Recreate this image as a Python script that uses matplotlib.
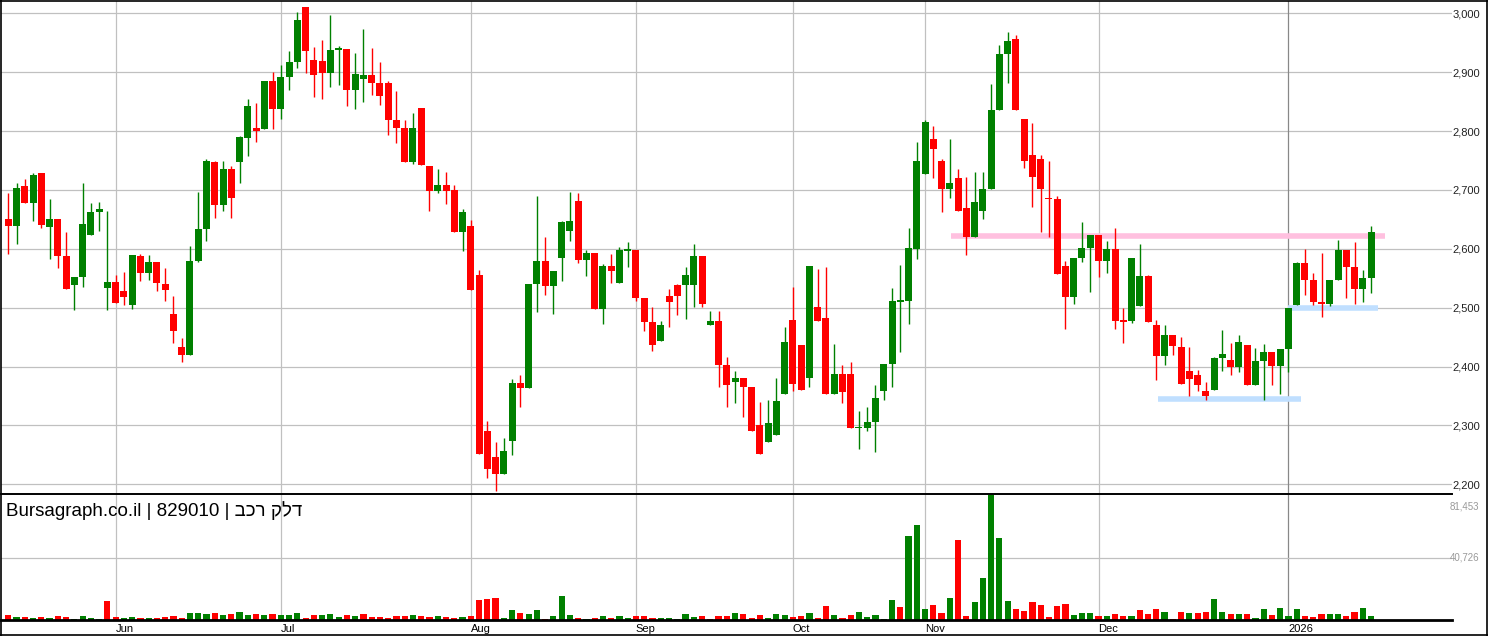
import matplotlib.pyplot as plt
import numpy as np

plt.rcParams['font.family'] = ['Liberation Sans', 'DejaVu Sans']

# daily candles, one entry per trading day
opens = [2650, 2638, 2706, 2677, 2728, 2637, 2651, 2587, 2538, 2552,
         2623, 2662, 2533, 2543, 2529, 2505, 2587, 2559, 2577, 2541,
         2489, 2434, 2420, 2580, 2634, 2748, 2674, 2736, 2747, 2789,
         2806, 2803, 2885, 2838, 2892, 2917, 3010, 2921, 2919, 2899,
         2938, 2939, 2870, 2889, 2895, 2881, 2881, 2818, 2806, 2747,
         2839, 2741, 2698, 2708, 2700, 2628, 2638, 2556, 2291, 2247,
         2217, 2274, 2372, 2363, 2540, 2579, 2536, 2585, 2631, 2682,
         2581, 2593, 2497, 2571, 2542, 2596, 2598, 2517, 2475, 2443,
         2520, 2539, 2539, 2539, 2588, 2471, 2478, 2402, 2373, 2380,
         2365, 2300, 2272, 2284, 2354, 2479, 2437, 2380, 2501, 2483,
         2354, 2388, 2388, 2295, 2295, 2306, 2358, 2405, 2510, 2511,
         2600, 2727, 2786, 2750, 2701, 2720, 2669, 2620, 2664, 2701,
         2835, 2931, 2956, 2821, 2760, 2752, 2686, 2684, 2571, 2518,
         2585, 2602, 2623, 2579, 2599, 2477, 2477, 2503, 2553, 2470,
         2418, 2453, 2434, 2392, 2385, 2358, 2360, 2414, 2411, 2399,
         2436, 2368, 2410, 2424, 2401, 2429, 2504, 2576, 2547, 2509,
         2506, 2547, 2598, 2569, 2531, 2550]
highs = [2694, 2711, 2719, 2728, 2728, 2685, 2651, 2628, 2552, 2712,
         2677, 2680, 2665, 2555, 2560, 2590, 2592, 2589, 2577, 2567,
         2520, 2448, 2604, 2697, 2752, 2750, 2750, 2740, 2792, 2855,
         2847, 2885, 2900, 2913, 2936, 3003, 3010, 2943, 2955, 2998,
         2945, 2940, 2932, 2974, 2941, 2917, 2885, 2868, 2818, 2831,
         2839, 2741, 2736, 2730, 2708, 2667, 2649, 2564, 2308, 2272,
         2279, 2379, 2385, 2540, 2689, 2620, 2562, 2647, 2697, 2694,
         2598, 2593, 2574, 2591, 2603, 2611, 2598, 2517, 2502, 2478,
         2532, 2541, 2569, 2608, 2588, 2495, 2495, 2416, 2392, 2380,
         2365, 2339, 2343, 2380, 2468, 2535, 2437, 2571, 2566, 2569,
         2439, 2402, 2407, 2324, 2331, 2368, 2405, 2533, 2572, 2635,
         2782, 2819, 2809, 2752, 2787, 2735, 2722, 2730, 2730, 2880,
         2946, 2968, 2963, 2821, 2814, 2760, 2749, 2690, 2580, 2585,
         2646, 2624, 2623, 2614, 2636, 2499, 2585, 2609, 2555, 2479,
         2470, 2453, 2450, 2434, 2394, 2373, 2417, 2462, 2440, 2453,
         2437, 2431, 2439, 2424, 2429, 2499, 2577, 2599, 2559, 2593,
         2547, 2615, 2598, 2611, 2564, 2639]
lows = [2591, 2608, 2677, 2648, 2635, 2582, 2567, 2532, 2496, 2535,
        2623, 2630, 2496, 2508, 2504, 2498, 2545, 2547, 2528, 2511,
        2440, 2408, 2420, 2577, 2613, 2652, 2665, 2652, 2712, 2757,
        2781, 2803, 2803, 2820, 2870, 2908, 2899, 2858, 2854, 2875,
        2879, 2843, 2837, 2850, 2861, 2844, 2794, 2779, 2747, 2744,
        2742, 2664, 2695, 2676, 2628, 2596, 2530, 2251, 2210, 2188,
        2217, 2249, 2331, 2363, 2492, 2522, 2490, 2546, 2613, 2576,
        2554, 2497, 2473, 2542, 2542, 2569, 2512, 2460, 2426, 2443,
        2468, 2488, 2480, 2502, 2502, 2471, 2365, 2331, 2338, 2314,
        2290, 2251, 2272, 2284, 2354, 2358, 2360, 2366, 2478, 2354,
        2354, 2338, 2295, 2260, 2290, 2255, 2343, 2365, 2424, 2473,
        2583, 2727, 2720, 2662, 2686, 2664, 2590, 2620, 2651, 2701,
        2835, 2882, 2836, 2738, 2671, 2629, 2620, 2557, 2464, 2506,
        2577, 2527, 2552, 2559, 2464, 2440, 2474, 2503, 2476, 2377,
        2403, 2420, 2371, 2350, 2359, 2343, 2360, 2392, 2385, 2390,
        2368, 2368, 2344, 2368, 2354, 2390, 2504, 2522, 2504, 2484,
        2503, 2547, 2516, 2506, 2509, 2525]
closes = [2638, 2704, 2677, 2726, 2640, 2651, 2588, 2532, 2552, 2643,
          2662, 2667, 2543, 2508, 2518, 2590, 2559, 2577, 2542, 2530,
          2460, 2420, 2580, 2634, 2750, 2674, 2736, 2686, 2790, 2843,
          2801, 2885, 2837, 2892, 2917, 2988, 2936, 2896, 2899, 2937,
          2939, 2870, 2897, 2895, 2881, 2859, 2818, 2806, 2747, 2806,
          2742, 2698, 2708, 2698, 2628, 2662, 2530, 2251, 2226, 2217,
          2257, 2372, 2363, 2540, 2579, 2536, 2562, 2645, 2648, 2581,
          2593, 2497, 2571, 2562, 2598, 2599, 2517, 2475, 2436, 2470,
          2510, 2520, 2556, 2588, 2507, 2478, 2402, 2369, 2380, 2366,
          2290, 2251, 2304, 2341, 2441, 2370, 2360, 2571, 2478, 2354,
          2388, 2356, 2295, 2296, 2306, 2346, 2405, 2512, 2511, 2601,
          2750, 2816, 2769, 2701, 2711, 2664, 2620, 2679, 2701, 2835,
          2931, 2953, 2836, 2750, 2722, 2701, 2684, 2557, 2518, 2584,
          2602, 2623, 2579, 2599, 2477, 2476, 2585, 2553, 2476, 2418,
          2453, 2435, 2371, 2379, 2369, 2350, 2414, 2421, 2399, 2441,
          2368, 2410, 2424, 2401, 2429, 2499, 2576, 2547, 2509, 2506,
          2547, 2598, 2569, 2531, 2550, 2628]
volumes = [3300, 2000, 2000, 1300, 2000, 1300, 2600, 2000, 660, 2600,
           1300, 660, 12500, 2000, 1300, 2000, 1300, 1300, 1300, 2000,
           2600, 1300, 4600, 4600, 4000, 4600, 3300, 4000, 5300, 3300,
           4000, 3300, 4000, 3300, 3300, 4600, 1300, 3300, 3300, 4000,
           2000, 3300, 2600, 4000, 2000, 2000, 1300, 2600, 2600, 3300,
           2600, 2000, 2600, 2000, 1300, 2000, 2600, 13200, 13900, 14500,
           1300, 6600, 4600, 4000, 6600, 660, 2600, 15800, 3300, 1300,
           660, 1300, 2600, 1300, 2600, 1300, 2600, 2600, 1300, 1300,
           1300, 660, 4000, 2000, 2600, 660, 2600, 2600, 4600, 4000,
           1300, 3300, 1300, 4000, 3300, 2000, 2600, 4600, 1300, 9200,
           3300, 1300, 3300, 5300, 2000, 3300, 660, 13200, 8600, 54800,
           62000, 7300, 9900, 4600, 14500, 52100, 2600, 11900, 27100, 81453,
           53500, 12500, 7300, 5900, 11900, 9900, 2000, 9200, 10600, 3300,
           4600, 4600, 2600, 2600, 4000, 2600, 2600, 6600, 4000, 7300,
           5300, 660, 5300, 4600, 4600, 5300, 13900, 5300, 4000, 4000,
           4000, 1300, 7300, 3300, 7900, 2600, 7300, 2600, 2000, 4000,
           4000, 4000, 2600, 5300, 7900, 2600]

# first trading day of each month (candle index)
months = ['Jun', 'Jul', 'Aug', 'Sep', 'Oct', 'Nov', 'Dec', '2026']
month_start = [13, 33, 56, 76, 95, 111, 132, 155]

price_ticks = list(range(2200, 3001, 100))
vol_ticks = [40726, 81453]

# support / resistance marks drawn on the chart
level_price = [2622, 2345, 2500]
level_from = [114.1, 139.2, 154.9]
level_to = [166.7, 156.5, 165.8]
level_color = ['#ffc0df', '#c0dfff', '#c0dfff']

name = "דלק רכב"
title = "Bursagraph.co.il | 829010 | " + name[::-1]  # no bidi in matplotlib

GREEN = '#008000'
RED = '#ff0000'
GRID = '#c0c0c0'

o = np.array(opens)
h = np.array(highs)
l = np.array(lows)
c = np.array(closes)
v = np.array(volumes)
x = np.arange(len(c))

W, H = 1488, 636
fig = plt.figure(figsize=(W / 100, H / 100), dpi=100)
ax = fig.add_axes([1 / W, (H - 494) / H, 1451 / W, 493 / H])
axv = fig.add_axes([1 / W, (H - 620) / H, 1451 / W, 125 / H])

xmin, xmax = -0.88, 174.8

# ---- price panel
body_col = [GREEN if cc >= oo else RED for oo, cc in zip(o, c)]
ax.vlines(x, l, h, colors=body_col, lw=1.0, zorder=3)
bottom = np.minimum(o, c)
height = np.maximum(np.abs(c - o), 3.0)
ax.bar(x, height, 0.85, bottom=bottom, color=body_col, lw=0, zorder=4)

for p, a, b, col in zip(level_price, level_from, level_to, level_color):
    ax.hlines(p, a, b, colors=col, lw=4.0, zorder=2, capstyle='butt')

for m, yr in zip(month_start, months):
    col = '#888888' if yr.isdigit() else GRID
    ax.axvline(m, color=col, lw=0.9, zorder=1)
    axv.axvline(m, color=col, lw=0.9, zorder=1)

ax.set_xlim(xmin, xmax)
ax.set_ylim(2183.5, 3021)
ax.set_yticks(price_ticks)
ax.set_yticklabels([f'{p:,}' for p in price_ticks])
ax.grid(axis='y', color=GRID, lw=0.9, zorder=0)
ax.set_axisbelow(True)
ax.set_xticks([])
ax.tick_params(axis='y', left=False, labelleft=False, right=False,
               labelright=True, length=0, pad=20, labelsize=8,
               labelcolor='#222222')
for t in ax.get_yticklabels():
    t.set_ha('right')
for s in ['top', 'left', 'right']:
    ax.spines[s].set_visible(False)
ax.spines['bottom'].set_color('black')
ax.spines['bottom'].set_linewidth(1.4)

# ---- volume panel
vol_col = [RED] + [GREEN if c[i] >= c[i - 1] else RED for i in range(1, len(c))]
axv.bar(x, v, 0.75, color=vol_col, lw=0, zorder=3)
axv.set_xlim(xmin, xmax)
axv.set_ylim(0, vol_ticks[1])
axv.axhline(vol_ticks[0], color=GRID, lw=0.9, zorder=1)
axv.set_yticks([])
axv.text(1.0 + 27 / 1451, vol_ticks[0], f'{vol_ticks[0]:,}',
         transform=axv.get_yaxis_transform(), ha='right', va='center',
         fontsize=7, color='#999999')
axv.text(1.0 + 27 / 1451, 0.905, f'{vol_ticks[1]:,}',
         transform=axv.transAxes, ha='right', va='center',
         fontsize=7, color='#999999')
axv.set_xticks(month_start)
axv.set_xticklabels(months)
axv.tick_params(axis='x', length=0, pad=3, labelsize=8)
for t in axv.get_xticklabels():
    t.set_ha('left')
for s in ['top', 'left', 'right']:
    axv.spines[s].set_visible(False)
axv.spines['bottom'].set_linewidth(2.0)
axv.spines['bottom'].set_zorder(5)

fig.text(6 / W, (H - 516) / H, title, fontsize=13.5, va='baseline',
         ha='left', color='black')

# outer frame
fr = dict(color='black', lw=1.2, transform=fig.transFigure)
fig.add_artist(plt.Line2D([0.5 / W, 0.5 / W], [0, 1], **fr))
fig.add_artist(plt.Line2D([(W - 1) / W, (W - 1) / W], [0, 1], **fr))
fig.add_artist(plt.Line2D([0, 1], [(H - 0.5) / H, (H - 0.5) / H], **fr))
fig.add_artist(plt.Line2D([0, 1], [(H - 634.5) / H, (H - 634.5) / H], **fr))

fig.savefig('out.png', dpi=100, facecolor='white')
